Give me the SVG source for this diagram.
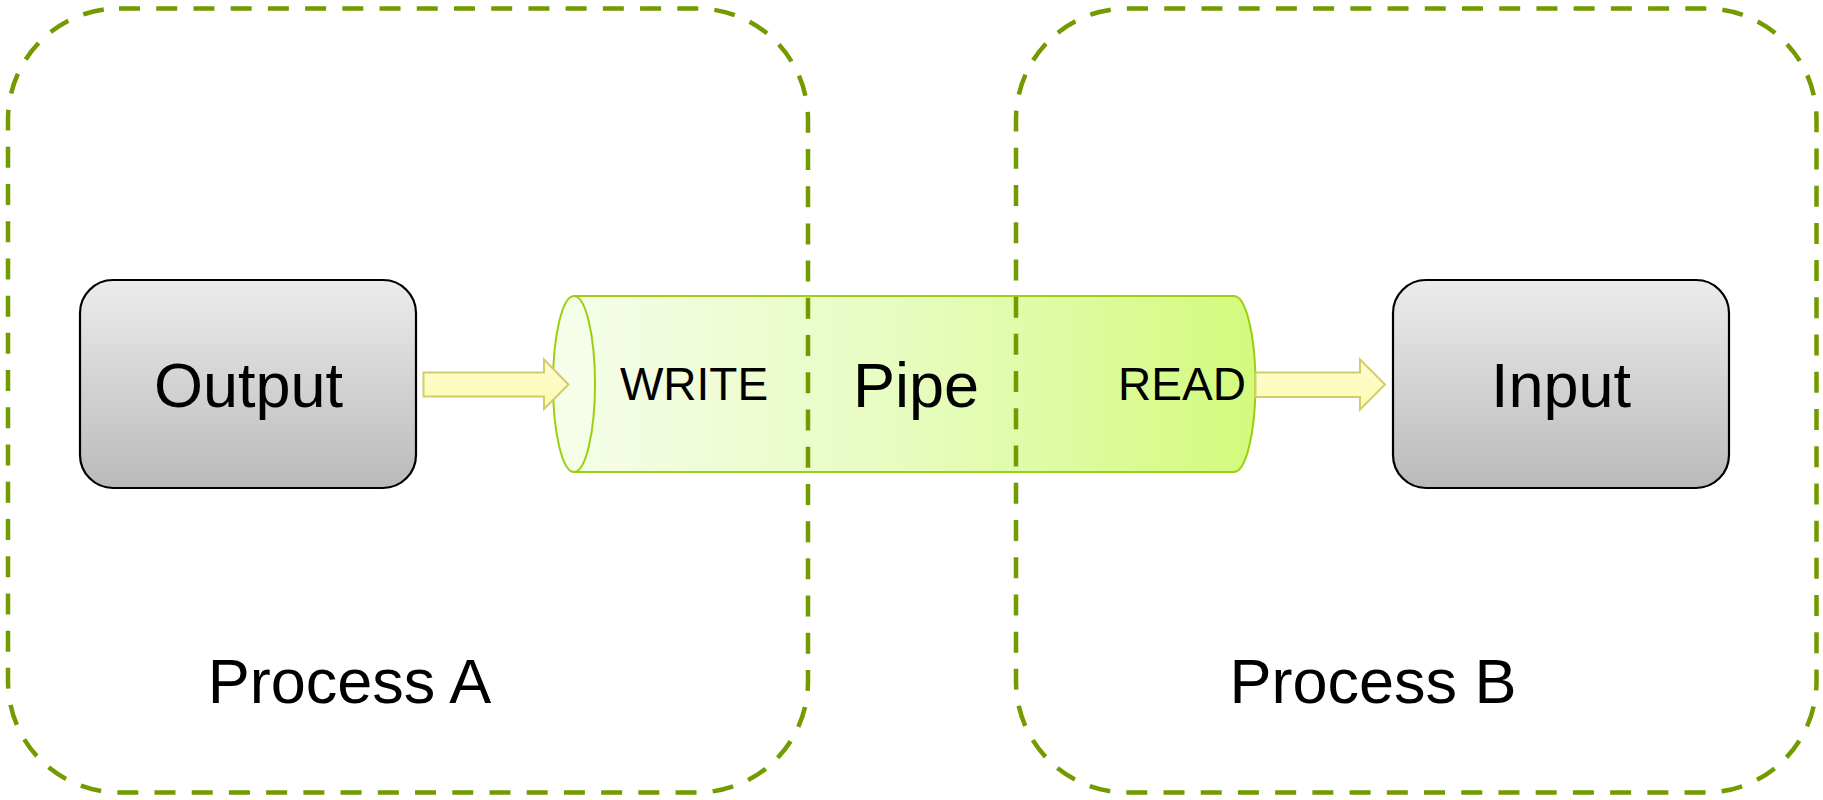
<svg xmlns="http://www.w3.org/2000/svg" width="1823" height="800" viewBox="0 0 1823 800">
  <defs>
    <linearGradient id="boxFill" x1="0" y1="0" x2="0" y2="1">
      <stop offset="0" stop-color="#ececec"/>
      <stop offset="1" stop-color="#bababa"/>
    </linearGradient>
    <linearGradient id="pipeBody" gradientUnits="userSpaceOnUse" x1="574" y1="0" x2="1256" y2="0">
      <stop offset="0" stop-color="#f5fde8"/>
      <stop offset="0.5" stop-color="#e6fcbe"/>
      <stop offset="1" stop-color="#d3fa7c"/>
    </linearGradient>
    <linearGradient id="arrowFill" x1="0" y1="0" x2="0" y2="1">
      <stop offset="0" stop-color="#fefdd0"/>
      <stop offset="1" stop-color="#fcfab4"/>
    </linearGradient>
  </defs>
  <style>
    /* dash period chosen so 80 periods fit the rounded-rect perimeter evenly */
    .container { fill: none; stroke: #729b00; stroke-width: 4.5; stroke-dasharray: 21 16.22; }
    .block { fill: url(#boxFill); stroke: #000; stroke-width: 2.2; }
    .pipe { fill: url(#pipeBody); stroke: #9ccf10; stroke-width: 2; }
    .pipe-cap { fill: #f6feea; stroke: #9ccf10; stroke-width: 2; }
    .arrow { fill: url(#arrowFill); stroke: #d2cd68; stroke-width: 2; stroke-linejoin: miter; }
    text { font-family: "Liberation Sans", Arial, sans-serif; fill: #000; text-anchor: middle; }
    .big { font-size: 63px; }
    .small { font-size: 46px; }
  </style>

  <rect width="1823" height="800" fill="#fff"/>

  <!-- pipe cylinder -->
  <g id="pipe">
    <path class="pipe" d="M574,296 L1234,296 A21.5,88 0 0 1 1234,472 L574,472 Z"/>
    <ellipse class="pipe-cap" cx="574" cy="384" rx="21" ry="88"/>
    <text class="small" x="694" y="400">WRITE</text>
    <text class="big" x="916" y="407">Pipe</text>
    <text class="small" x="1182" y="400">READ</text>
  </g>

  <!-- block arrows -->
  <g id="connectors">
    <polygon class="arrow" points="423.5,372.5 544,372.5 544,359.5 568.5,384.5 544,409 544,396.5 423.5,396.5"/>
    <polygon class="arrow" points="1255.5,372.5 1360,372.5 1360,359.5 1385,384.5 1360,409.5 1360,397 1255.5,397"/>
  </g>

  <g id="output">
    <rect class="block" x="80" y="280" width="336" height="208" rx="33" ry="33"/>
    <text class="big" x="248.5" y="407">Output</text>
  </g>

  <g id="input">
    <rect class="block" x="1393" y="280" width="336" height="208" rx="33" ry="33"/>
    <text class="big" x="1561" y="407">Input</text>
  </g>

  <!-- process boundaries -->
  <g id="process-a">
    <rect class="container" x="8" y="8.5" width="800" height="784" rx="111" ry="111"/>
    <text class="big" x="349.5" y="703">Process A</text>
  </g>

  <g id="process-b">
    <rect class="container" x="1016" y="8.5" width="800.5" height="784" rx="111" ry="111"/>
    <text class="big" x="1373" y="703">Process B</text>
  </g>
</svg>
